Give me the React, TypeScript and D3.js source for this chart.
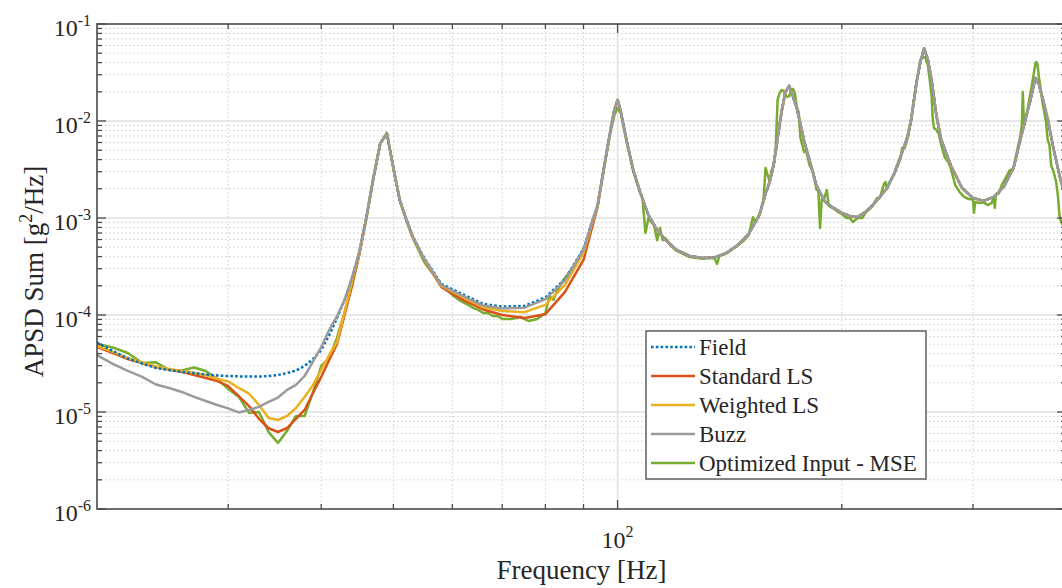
import React from 'react';
import * as d3 from 'd3';

// ---- Data: summed auto power spectral density, g^2/Hz vs frequency, Hz ----

// Common frequency grid for the smooth responses
const freqHz = [
  20, 21, 22, 23, 24, 25, 26, 27, 28, 29, 30, 31, 32, 33, 34, 35, 36, 37, 38, 39,
  40, 41, 42, 43, 44, 45, 46, 47, 48, 49, 50, 51, 52, 53, 55, 58, 62, 66, 70, 75,
  80, 85, 90, 92, 94, 96, 97, 98, 99, 100, 101, 102, 103, 105, 107, 110, 113, 116, 120, 125,
  130, 135, 140, 145, 150, 155, 158, 160, 162, 164, 166, 168, 170, 172, 174, 176, 178, 181, 185, 190,
  195, 200, 205, 210, 215, 220, 225, 230, 235, 240, 245, 248, 252, 255, 258, 261, 264, 268, 272, 280,
  290, 300, 310, 320, 330, 340, 346, 352, 358, 364, 368, 372, 378, 385, 392, 400,
];

const fieldPsd = [
  5.18e-5, 4.26e-5, 3.56e-5, 3.16e-5, 2.84e-5, 2.71e-5, 2.59e-5, 2.52e-5, 2.44e-5, 2.38e-5,
  2.35e-5, 2.33e-5, 2.32e-5, 2.32e-5, 2.35e-5, 2.41e-5, 2.52e-5, 2.68e-5, 2.98e-5, 3.52e-5,
  4.36e-5, 6.2e-5, 9.3e-5, 1.43e-4, 2.41e-4, 4.46e-4, 1.02e-3, 2.6e-3, 5.83e-3, 7.5e-3,
  3.28e-3, 1.53e-3, 9.86e-4, 6.6e-4, 3.87e-4, 2.09e-4, 1.63e-4, 1.3e-4, 1.22e-4, 1.24e-4,
  1.52e-4, 2.35e-4, 4.79e-4, 8.3e-4, 1.36e-3, 3.52e-3, 5.52e-3, 8.67e-3, 1.3e-2, 1.65e-2,
  1.25e-2, 8.5e-3, 5.9e-3, 3.1e-3, 1.94e-3, 1.07e-3, 7.52e-4, 5.93e-4, 4.68e-4, 4.06e-4,
  3.87e-4, 3.92e-4, 4.36e-4, 5.27e-4, 6.84e-4, 1.07e-3, 1.77e-3, 2.35e-3, 3.52e-3, 6.6e-3,
  1.24e-2, 1.99e-2, 2.3e-2, 1.77e-2, 1.36e-2, 9.31e-3, 6.22e-3, 3.96e-3, 2.14e-3, 1.46e-3,
  1.27e-3, 1.13e-3, 1.05e-3, 1.02e-3, 1.15e-3, 1.36e-3, 1.65e-3, 2.04e-3, 2.84e-3, 4.36e-3,
  6.84e-3, 1.07e-2, 2.52e-2, 4.06e-2, 5.6e-2, 4.26e-2, 2.65e-2, 1.13e-2, 6.4e-3, 3.52e-3,
  2.04e-3, 1.61e-3, 1.5e-3, 1.65e-3, 2.09e-3, 3.28e-3, 5.66e-3, 9.7e-3, 1.6e-2, 2.78e-2,
  2.35e-2, 1.73e-2, 1.05e-2, 5.1e-3, 2.77e-3, 1.54e-3,
];

const standardLsPsd = [
  4.68e-5, 4.06e-5, 3.52e-5, 3.2e-5, 2.91e-5, 2.74e-5, 2.59e-5, 2.41e-5, 2.24e-5, 2.09e-5,
  1.85e-5, 1.46e-5, 1.15e-5, 8.5e-6, 6.8e-6, 6.22e-6, 6.84e-6, 8.5e-6, 1.05e-5, 1.57e-5,
  2.3e-5, 3.44e-5, 5.02e-5, 1.0e-4, 2.0e-4, 4.2e-4, 1.0e-3, 2.58e-3, 5.83e-3, 7.5e-3,
  3.28e-3, 1.53e-3, 9.86e-4, 6.6e-4, 3.7e-4, 1.94e-4, 1.43e-4, 1.14e-4, 1.0e-4, 9.31e-5,
  1.02e-4, 1.73e-4, 3.69e-4, 7.0e-4, 1.3e-3, 3.52e-3, 5.52e-3, 8.67e-3, 1.3e-2, 1.65e-2,
  1.25e-2, 8.5e-3, 5.9e-3, 3.1e-3, 1.94e-3, 1.07e-3, 7.52e-4, 5.93e-4, 4.68e-4, 4.06e-4,
  3.87e-4, 3.92e-4, 4.36e-4, 5.27e-4, 6.84e-4, 1.07e-3, 1.77e-3, 2.35e-3, 3.52e-3, 6.6e-3,
  1.24e-2, 1.99e-2, 2.3e-2, 1.77e-2, 1.36e-2, 9.31e-3, 6.22e-3, 3.96e-3, 2.14e-3, 1.46e-3,
  1.27e-3, 1.13e-3, 1.05e-3, 1.02e-3, 1.15e-3, 1.36e-3, 1.65e-3, 2.04e-3, 2.84e-3, 4.36e-3,
  6.84e-3, 1.07e-2, 2.52e-2, 4.06e-2, 5.6e-2, 4.26e-2, 2.65e-2, 1.13e-2, 6.4e-3, 3.52e-3,
  2.04e-3, 1.61e-3, 1.5e-3, 1.65e-3, 2.09e-3, 3.28e-3, 5.66e-3, 9.7e-3, 1.6e-2, 2.78e-2,
  2.35e-2, 1.73e-2, 1.05e-2, 5.1e-3, 2.77e-3, 1.54e-3,
];

const weightedLsPsd = [
  4.79e-5, 4.16e-5, 3.6e-5, 3.25e-5, 2.94e-5, 2.78e-5, 2.65e-5, 2.52e-5, 2.41e-5, 2.2e-5,
  2.07e-5, 1.77e-5, 1.55e-5, 1.18e-5, 8.67e-6, 8.27e-6, 9.1e-6, 1.1e-5, 1.43e-5, 1.9e-5,
  2.71e-5, 3.87e-5, 5.27e-5, 1.07e-4, 2.2e-4, 4.3e-4, 1.01e-3, 2.6e-3, 5.83e-3, 7.5e-3,
  3.28e-3, 1.53e-3, 9.86e-4, 6.6e-4, 3.75e-4, 2.0e-4, 1.53e-4, 1.2e-4, 1.1e-4, 1.07e-4,
  1.27e-4, 2.04e-4, 4.36e-4, 7.8e-4, 1.33e-3, 3.52e-3, 5.52e-3, 8.67e-3, 1.3e-2, 1.65e-2,
  1.25e-2, 8.5e-3, 5.9e-3, 3.1e-3, 1.94e-3, 1.07e-3, 7.52e-4, 5.93e-4, 4.68e-4, 4.06e-4,
  3.87e-4, 3.92e-4, 4.36e-4, 5.27e-4, 6.84e-4, 1.07e-3, 1.77e-3, 2.35e-3, 3.52e-3, 6.6e-3,
  1.24e-2, 1.99e-2, 2.3e-2, 1.77e-2, 1.36e-2, 9.31e-3, 6.22e-3, 3.96e-3, 2.14e-3, 1.46e-3,
  1.27e-3, 1.13e-3, 1.05e-3, 1.02e-3, 1.15e-3, 1.36e-3, 1.65e-3, 2.04e-3, 2.84e-3, 4.36e-3,
  6.84e-3, 1.07e-2, 2.52e-2, 4.06e-2, 5.6e-2, 4.26e-2, 2.65e-2, 1.13e-2, 6.4e-3, 3.52e-3,
  2.04e-3, 1.61e-3, 1.5e-3, 1.65e-3, 2.09e-3, 3.28e-3, 5.66e-3, 9.7e-3, 1.6e-2, 2.78e-2,
  2.35e-2, 1.73e-2, 1.05e-2, 5.1e-3, 2.77e-3, 1.54e-3,
];

const buzzPsd = [
  3.87e-5, 3.13e-5, 2.65e-5, 2.3e-5, 1.92e-5, 1.77e-5, 1.61e-5, 1.43e-5, 1.3e-5, 1.18e-5,
  1.09e-5, 9.9e-6, 1.05e-5, 1.13e-5, 1.27e-5, 1.41e-5, 1.69e-5, 1.9e-5, 2.35e-5, 3.3e-5,
  4.68e-5, 7.0e-5, 9.76e-5, 1.43e-4, 2.45e-4, 4.5e-4, 1.02e-3, 2.6e-3, 5.83e-3, 7.5e-3,
  3.28e-3, 1.53e-3, 9.86e-4, 6.6e-4, 3.8e-4, 2.03e-4, 1.57e-4, 1.25e-4, 1.17e-4, 1.19e-4,
  1.46e-4, 2.27e-4, 4.7e-4, 8.2e-4, 1.36e-3, 3.52e-3, 5.52e-3, 8.67e-3, 1.3e-2, 1.65e-2,
  1.25e-2, 8.5e-3, 5.9e-3, 3.1e-3, 1.94e-3, 1.07e-3, 7.52e-4, 5.93e-4, 4.68e-4, 4.06e-4,
  3.87e-4, 3.92e-4, 4.36e-4, 5.27e-4, 6.84e-4, 1.07e-3, 1.77e-3, 2.35e-3, 3.52e-3, 6.6e-3,
  1.24e-2, 1.99e-2, 2.3e-2, 1.77e-2, 1.36e-2, 9.31e-3, 6.22e-3, 3.96e-3, 2.14e-3, 1.46e-3,
  1.27e-3, 1.13e-3, 1.05e-3, 1.02e-3, 1.15e-3, 1.36e-3, 1.65e-3, 2.04e-3, 2.84e-3, 4.36e-3,
  6.84e-3, 1.07e-2, 2.52e-2, 4.06e-2, 5.6e-2, 4.26e-2, 2.65e-2, 1.13e-2, 6.4e-3, 3.52e-3,
  2.04e-3, 1.61e-3, 1.5e-3, 1.65e-3, 2.09e-3, 3.28e-3, 5.66e-3, 9.7e-3, 1.6e-2, 2.78e-2,
  2.35e-2, 1.73e-2, 1.05e-2, 5.1e-3, 2.77e-3, 1.54e-3,
];

// The optimized-input response is noisier, so it has its own finer grid
const optimizedFreqHz = [
  20, 21, 22, 23, 24, 25, 26, 27, 28, 29, 30, 31, 32, 33, 34, 35, 36, 37, 38, 39,
  40, 41, 42, 43, 44, 45, 46, 47, 48, 49, 50, 51, 52, 53, 55, 56, 57, 58, 59, 60,
  61, 62, 63, 64, 65, 66, 67, 68, 69, 70, 72, 74, 76, 78, 79, 80, 81, 82, 83, 84,
  85, 86, 87, 88, 89, 90, 92, 94, 96, 97, 98, 99, 100, 101, 102, 103, 105, 107, 108, 109,
  110, 111, 112, 113, 114, 115, 116, 118, 120, 125, 130, 133, 135, 136, 137, 140, 145, 148, 150, 152,
  153, 155, 157, 158, 159, 160, 161, 162, 163, 164, 165, 166, 167, 168, 169, 170, 171, 172, 173, 174,
  175, 176, 177, 178, 179, 181, 183, 185, 186, 187, 188, 189, 191, 192, 195, 198, 200, 203, 205, 207,
  210, 213, 215, 220, 223, 225, 228, 229, 230, 232, 235, 238, 240, 241, 243, 245, 248, 252, 255, 256,
  257, 258, 259, 260, 261, 262, 263, 264, 265, 266, 268, 270, 272, 275, 278, 280, 284, 288, 292, 296,
  300, 301, 302, 306, 310, 314, 318, 320, 321, 322, 325, 328, 332, 336, 340, 344, 347, 349, 350, 351,
  352, 354, 356, 358, 360, 362, 364, 365, 366, 367, 368, 370, 372, 374, 376, 378, 380, 382, 385, 388,
  390, 392, 394, 396, 400,
];

const optimizedPsd = [
  5.02e-5, 4.62e-5, 4.06e-5, 3.2e-5, 3.25e-5, 2.71e-5, 2.68e-5, 2.88e-5, 2.65e-5, 2.19e-5,
  1.73e-5, 1.44e-5, 9.8e-6, 1.0e-5, 6.2e-6, 4.8e-6, 6.4e-6, 9.1e-6, 9.1e-6, 1.6e-5,
  2.98e-5, 3.6e-5, 5.8e-5, 1.07e-4, 2.04e-4, 4.3e-4, 1.0e-3, 2.55e-3, 5.8e-3, 7.5e-3,
  3.25e-3, 1.5e-3, 9.6e-4, 6.4e-4, 3.52e-4, 2.91e-4, 2.46e-4, 2.04e-4, 1.81e-4, 1.61e-4,
  1.46e-4, 1.36e-4, 1.27e-4, 1.18e-4, 1.13e-4, 1.05e-4, 1.05e-4, 9.76e-5, 9.76e-5, 9.09e-5,
  9.09e-5, 9.54e-5, 8.67e-5, 9.09e-5, 9.76e-5, 1.05e-4, 1.57e-4, 1.43e-4, 1.81e-4, 2.09e-4,
  2.41e-4, 2.71e-4, 3.05e-4, 3.52e-4, 4.06e-4, 4.68e-4, 7.6e-4, 1.33e-3, 3.4e-3, 5.3e-3,
  8.2e-3, 1.15e-2, 1.36e-2, 1.2e-2, 8.3e-3, 5.8e-3, 3.0e-3, 1.9e-3, 1.59e-3, 7.0e-4,
  1.0e-3, 9.1e-4, 8.3e-4, 5.9e-4, 7.9e-4, 5.9e-4, 6.2e-4, 5.14e-4, 4.6e-4, 3.95e-4,
  3.8e-4, 3.87e-4, 3.85e-4, 3.36e-4, 4.06e-4, 4.3e-4, 5.2e-4, 5.93e-4, 6.7e-4, 1.02e-3,
  9.1e-4, 1.07e-3, 1.53e-3, 3.28e-3, 2.78e-3, 2.4e-3, 3.1e-3, 3.52e-3, 5.02e-3, 1.65e-2,
  1.94e-2, 2.09e-2, 2.04e-2, 1.85e-2, 1.77e-2, 1.81e-2, 2.09e-2, 2.14e-2, 1.94e-2, 1.39e-2,
  1.24e-2, 6.68e-3, 5.66e-3, 4.79e-3, 5.02e-3, 3.52e-3, 2.98e-3, 1.94e-3, 1.94e-3, 7.9e-4,
  1.57e-3, 1.53e-3, 1.94e-3, 1.34e-3, 1.25e-3, 1.15e-3, 1.1e-3, 1.0e-3, 1.0e-3, 9.1e-4,
  1.0e-3, 1.0e-3, 1.12e-3, 1.33e-3, 1.6e-3, 1.62e-3, 2.27e-3, 2.35e-3, 2.0e-3, 2.35e-3,
  2.8e-3, 3.52e-3, 4.2e-3, 5.27e-3, 5.27e-3, 6.5e-3, 1.05e-2, 2.5e-2, 4.26e-2, 4.46e-2,
  4.57e-2, 4.51e-2, 4.57e-2, 4.06e-2, 3.78e-2, 2.98e-2, 2.35e-2, 1.85e-2, 1.03e-2, 8.47e-3,
  8.1e-3, 7.34e-3, 5.66e-3, 4.2e-3, 3.78e-3, 3.3e-3, 2.19e-3, 1.85e-3, 1.65e-3, 1.57e-3,
  1.55e-3, 1.13e-3, 1.46e-3, 1.43e-3, 1.45e-3, 1.36e-3, 1.43e-3, 1.65e-3, 1.27e-3, 1.73e-3,
  1.8e-3, 2.19e-3, 2.59e-3, 3.1e-3, 3.2e-3, 5.0e-3, 6.7e-3, 9.1e-3, 1.99e-2, 1.07e-2,
  9.1e-3, 1.15e-2, 1.46e-2, 1.85e-2, 2.35e-2, 3.05e-2, 3.96e-2, 4.06e-2, 3.87e-2, 3.36e-2,
  2.78e-2, 2.09e-2, 1.53e-2, 1.24e-2, 9.8e-3, 6.4e-3, 5.66e-3, 3.52e-3, 2.98e-3, 2.35e-3,
  1.73e-3, 1.07e-3, 9.1e-4, 8.5e-4, 7.6e-4,
];

// Legend labels, in legend order
const seriesLabels = ['Field', 'Standard LS', 'Weighted LS', 'Buzz', 'Optimized Input - MSE'];

// Axis ticks
const yDecadeExponents = [-6, -5, -4, -3, -2, -1];
const xMinorTicksHz = [30, 40, 50, 60, 70, 80, 90, 200, 300, 400];
const xMajorTicksHz = [100];
const xMajorTickExponents = ['2'];

// ---- Layout & style ----
const W = 1062;
const H = 588;
const PLOT = { left: 97, right: 1066, top: 24, bottom: 509 };
const FONT = "'Liberation Serif', 'Times New Roman', Times, serif";
const COLORS = {
  field: '#0072BD',
  standard: '#D95319',
  weighted: '#EDB120',
  buzz: '#9b9b9b',
  optimized: '#77AC30',
};

const x = d3.scaleLog().domain([20, 400]).range([PLOT.left, PLOT.right]);
const y = d3.scaleLog().domain([1e-6, 1e-1]).range([PLOT.bottom, PLOT.top]);

const lineGen = d3
  .line<[number, number]>()
  .x((d) => x(d[0]))
  .y((d) => y(d[1]));

const zipSeries = (fs: number[], vs: number[]) =>
  fs.map((f, i) => [f, vs[i]] as [number, number]);

type Series = {
  key: string;
  label: string;
  color: string;
  dash?: string;
  path: string;
};

const seriesField: Series = {
  key: 'field',
  label: seriesLabels[0],
  color: COLORS.field,
  dash: '2.6,2.2',
  path: lineGen(zipSeries(freqHz, fieldPsd)) || '',
};
const seriesStandard: Series = {
  key: 'standard',
  label: seriesLabels[1],
  color: COLORS.standard,
  path: lineGen(zipSeries(freqHz, standardLsPsd)) || '',
};
const seriesWeighted: Series = {
  key: 'weighted',
  label: seriesLabels[2],
  color: COLORS.weighted,
  path: lineGen(zipSeries(freqHz, weightedLsPsd)) || '',
};
const seriesBuzz: Series = {
  key: 'buzz',
  label: seriesLabels[3],
  color: COLORS.buzz,
  path: lineGen(zipSeries(freqHz, buzzPsd)) || '',
};
const seriesOptimized: Series = {
  key: 'optimized',
  label: seriesLabels[4],
  color: COLORS.optimized,
  path: lineGen(zipSeries(optimizedFreqHz, optimizedPsd)) || '',
};

// drawing order (last on top)
const drawOrder = [seriesOptimized, seriesStandard, seriesWeighted, seriesField, seriesBuzz];
const legendOrder = [seriesField, seriesStandard, seriesWeighted, seriesBuzz, seriesOptimized];

// minor y values: 2..9 x 10^e
const yMinorValues: number[] = [];
for (let e = -6; e <= -2; e++) {
  for (let k = 2; k <= 9; k++) yMinorValues.push(k * Math.pow(10, e));
}

export default function App() {
  const axisColor = '#4a4a4a';
  const majorTick = 9;
  const minorTick = 5;

  return (
    <svg
      width={W}
      height={H}
      viewBox={`0 0 ${W} ${H}`}
      style={{ position: 'absolute', left: 0, top: 0, background: '#fff' }}
      fontFamily={FONT}
    >
      <defs>
        <clipPath id="plot-clip">
          <rect
            x={PLOT.left}
            y={PLOT.top}
            width={PLOT.right - PLOT.left}
            height={PLOT.bottom - PLOT.top}
          />
        </clipPath>
      </defs>

      <rect x={0} y={0} width={W} height={H} fill="#fff" />

      {/* minor grid */}
      <g stroke="#cfcfcf" strokeWidth={1} strokeDasharray="1.5,2.5">
        {yMinorValues.map((v) => (
          <line key={`gy${v}`} x1={PLOT.left} x2={PLOT.right} y1={y(v)} y2={y(v)} />
        ))}
        {xMinorTicksHz.map((f) => (
          <line key={`gx${f}`} x1={x(f)} x2={x(f)} y1={PLOT.top} y2={PLOT.bottom} />
        ))}
      </g>

      {/* major grid */}
      <g stroke="#e1e1e1" strokeWidth={1.6}>
        {yDecadeExponents.slice(1, -1).map((e) => (
          <line
            key={`My${e}`}
            x1={PLOT.left}
            x2={PLOT.right}
            y1={y(Math.pow(10, e))}
            y2={y(Math.pow(10, e))}
          />
        ))}
        {xMajorTicksHz.map((f) => (
          <line key={`Mx${f}`} x1={x(f)} x2={x(f)} y1={PLOT.top} y2={PLOT.bottom} />
        ))}
      </g>

      {/* data */}
      <g clipPath="url(#plot-clip)" fill="none" strokeLinejoin="round">
        {drawOrder.map((s) => (
          <path
            key={s.key}
            d={s.path}
            stroke={s.color}
            strokeWidth={2.5}
            strokeDasharray={s.dash}
          />
        ))}
      </g>

      {/* axes box */}
      <rect
        x={PLOT.left}
        y={PLOT.top}
        width={PLOT.right - PLOT.left}
        height={PLOT.bottom - PLOT.top}
        fill="none"
        stroke={axisColor}
        strokeWidth={1.6}
      />

      {/* ticks */}
      <g stroke={axisColor} strokeWidth={1.3}>
        {yDecadeExponents.map((e) => {
          const yy = y(Math.pow(10, e));
          return (
            <g key={`ty${e}`}>
              <line x1={PLOT.left} x2={PLOT.left + majorTick} y1={yy} y2={yy} />
              <line x1={PLOT.right} x2={PLOT.right - majorTick} y1={yy} y2={yy} />
            </g>
          );
        })}
        {yMinorValues.map((v) => (
          <g key={`tym${v}`}>
            <line x1={PLOT.left} x2={PLOT.left + minorTick} y1={y(v)} y2={y(v)} />
            <line x1={PLOT.right} x2={PLOT.right - minorTick} y1={y(v)} y2={y(v)} />
          </g>
        ))}
        {xMajorTicksHz.map((f) => (
          <g key={`tx${f}`}>
            <line x1={x(f)} x2={x(f)} y1={PLOT.bottom} y2={PLOT.bottom - majorTick} />
            <line x1={x(f)} x2={x(f)} y1={PLOT.top} y2={PLOT.top + majorTick} />
          </g>
        ))}
        {xMinorTicksHz.map((f) => (
          <g key={`txm${f}`}>
            <line x1={x(f)} x2={x(f)} y1={PLOT.bottom} y2={PLOT.bottom - minorTick} />
            <line x1={x(f)} x2={x(f)} y1={PLOT.top} y2={PLOT.top + minorTick} />
          </g>
        ))}
      </g>

      {/* tick labels */}
      <g fill="#262626" fontSize={24}>
        {yDecadeExponents.map((e) => (
          <text key={`ly${e}`} x={PLOT.left - 6} y={y(Math.pow(10, e)) + 12} textAnchor="end">
            <tspan>10</tspan>
            <tspan dy={-10} fontSize={16}>{`-${-e}`}</tspan>
          </text>
        ))}
        {xMajorTicksHz.map((f, i) => (
          <text key={`lx${f}`} x={x(f)} y={548} textAnchor="middle">
            <tspan>10</tspan>
            <tspan dy={-11} fontSize={16}>{xMajorTickExponents[i]}</tspan>
          </text>
        ))}
      </g>

      {/* axis titles */}
      <text
        x={(PLOT.left + PLOT.right) / 2}
        y={579}
        textAnchor="middle"
        fontSize={27}
        fill="#262626"
      >
        Frequency [Hz]
      </text>
      <text
        transform={`translate(43, ${(PLOT.top + PLOT.bottom) / 2 + 5}) rotate(-90)`}
        textAnchor="middle"
        fontSize={27}
        fill="#262626"
      >
        <tspan>APSD Sum [g</tspan>
        <tspan dy={-11} fontSize={18}>2</tspan>
        <tspan dy={11}>/Hz]</tspan>
      </text>

      {/* legend */}
      <g>
        <rect x={646} y={331} width={280} height={148} fill="#fff" stroke="#555" strokeWidth={1.4} />
        {legendOrder.map((s, i) => {
          const cy = 347 + i * 29;
          return (
            <g key={`lg${s.key}`}>
              <line
                x1={651}
                x2={695}
                y1={cy}
                y2={cy}
                stroke={s.color}
                strokeWidth={2.5}
                strokeDasharray={s.dash}
              />
              <text x={699} y={cy + 8} fontSize={23} fill="#262626">
                {s.label}
              </text>
            </g>
          );
        })}
      </g>
    </svg>
  );
}
